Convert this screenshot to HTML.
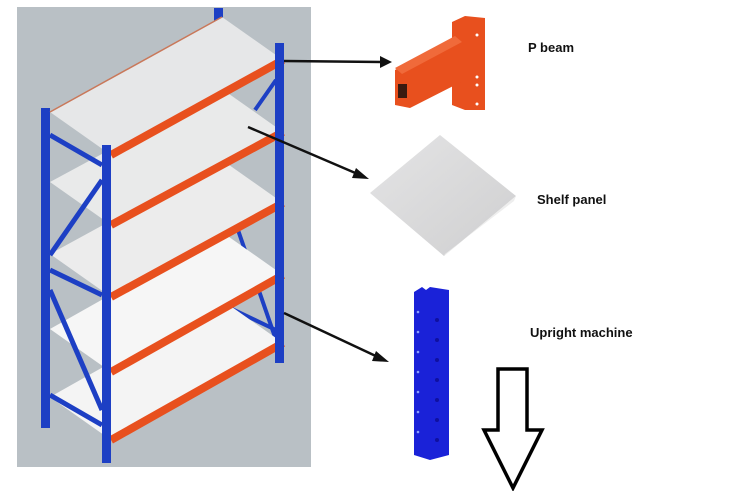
<!DOCTYPE html>
<html><head><meta charset="utf-8"><style>
body{margin:0;background:#fff;width:732px;height:491px;overflow:hidden;font-family:"Liberation Sans",sans-serif}
svg{display:block}
</style></head><body>
<svg width="732" height="491" viewBox="0 0 732 491" xmlns="http://www.w3.org/2000/svg">
<defs>
<linearGradient id="pg" x1="0" y1="0" x2="1" y2="1"><stop offset="0" stop-color="#e4e4e5"/><stop offset="1" stop-color="#cfcfd0"/></linearGradient>
</defs>
<rect x="17" y="7" width="294" height="460" fill="#b9c0c5"/>
<rect x="214" y="8" width="9" height="20" fill="#1d3fc4"/>
<rect x="41" y="108" width="9" height="320" fill="#1d3fc4"/>
<g stroke="#1d3fc4" stroke-width="4">
<line x1="255" y1="110" x2="276" y2="80"/>
<line x1="238" y1="230" x2="276" y2="340"/>
<line x1="230" y1="308" x2="276" y2="330"/>
</g>
<g>
<polygon points="111,440 283,343 222,300 50,397" fill="#f4f4f4"/>
<polygon points="111,372 283,275 222,232 50,329" fill="#f6f6f6"/>
<polygon points="111,297 283,203 222,160 50,254" fill="#ececec"/>
<polygon points="111,225 283,132 222,89 50,182" fill="#e9eaea"/>
<polygon points="111,155 283,60 222,17 50,112" fill="#e6e7e8"/>
<line x1="50" y1="112" x2="222" y2="17" stroke="#c9785a" stroke-width="1.5"/>
</g>
<g stroke="#1d3fc4" stroke-width="5">
<line x1="50" y1="135" x2="102" y2="165"/>
<line x1="50" y1="270" x2="102" y2="295"/>
<line x1="50" y1="395" x2="102" y2="425"/>
<line x1="50" y1="255" x2="102" y2="180"/>
<line x1="50" y1="290" x2="102" y2="410"/>
</g>
<g stroke="#e8501e" stroke-width="8">
<line x1="111" y1="155" x2="283" y2="60"/>
<line x1="111" y1="225" x2="283" y2="132"/>
<line x1="111" y1="297" x2="283" y2="203"/>
<line x1="111" y1="372" x2="283" y2="275"/>
<line x1="111" y1="440" x2="283" y2="343"/>
</g>
<rect x="275" y="43" width="9" height="320" fill="#1d3fc4"/>
<rect x="102" y="145" width="9" height="318" fill="#1d3fc4"/>
<g stroke="#111" stroke-width="2.5" fill="#111">
<line x1="284" y1="61" x2="382" y2="62"/>
<polygon points="392,62 380,56 380,68" stroke="none"/>
<line x1="248" y1="127" x2="360" y2="175"/>
<polygon points="369,179 356,168 352,178" stroke="none"/>
<line x1="284" y1="313" x2="380" y2="358"/>
<polygon points="389,362 376,351 372,361" stroke="none"/>
</g>
<g fill="#e8501e">
<polygon points="452,22 465,16 485,18 485,110 465,110 452,105"/>
<polygon points="395,70 455,38 465,48 465,80 410,108 395,105"/>
<polygon points="395,68 455,36 462,42 402,74" fill="#f06a3a"/>
<rect x="398" y="84" width="9" height="14" fill="#3a1a10"/>
</g>
<g fill="#fff"><circle cx="477" cy="35" r="1.5"/><circle cx="477" cy="77" r="1.5"/><circle cx="477" cy="85" r="1.5"/><circle cx="477" cy="104" r="1.5"/></g>
<polygon points="370,193 440,135 516,196 444,256" fill="url(#pg)"/>
<polygon points="444,256 516,196 514,201 445,254" fill="#eee"/>
<polygon points="414,292 422,287 426,290 430,287 449,290 449,455 430,460 414,455" fill="#1a22d8"/>
<g fill="#8ea0ff"><circle cx="418" cy="312" r="1.3"/><circle cx="418" cy="332" r="1.3"/><circle cx="418" cy="352" r="1.3"/><circle cx="418" cy="372" r="1.3"/><circle cx="418" cy="392" r="1.3"/><circle cx="418" cy="412" r="1.3"/><circle cx="418" cy="432" r="1.3"/></g>
<g fill="#1010a0"><circle cx="437" cy="320" r="2"/><circle cx="437" cy="340" r="2"/><circle cx="437" cy="360" r="2"/><circle cx="437" cy="380" r="2"/><circle cx="437" cy="400" r="2"/><circle cx="437" cy="420" r="2"/><circle cx="437" cy="440" r="2"/></g>
<polygon points="498,369 527,369 527,430 542,430 513,488 484,430 498,430" fill="#fff" stroke="#000" stroke-width="3.5" stroke-linejoin="miter"/>
<g font-family="Liberation Sans, sans-serif" font-weight="bold" font-size="13" fill="#111">
<text x="528" y="52">P beam</text>
<text x="537" y="204">Shelf panel</text>
<text x="530" y="337">Upright machine</text>
</g>
</svg>
</body></html>
